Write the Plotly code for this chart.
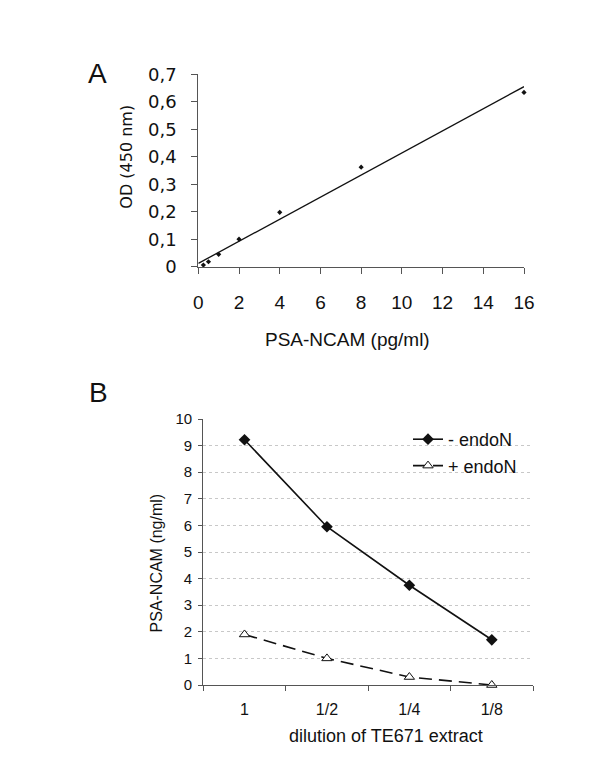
import plotly.graph_objects as go

W, H = 600, 759
OFF = 8  # page body margin in the browser

# ---------------- Panel A data ----------------
conc_pg = [0.25, 0.5, 1, 2, 4, 8, 16]
od_450 = [0.006, 0.018, 0.045, 0.1, 0.198, 0.362, 0.634]
fit_x = [0, 16]
fit_y = [0.012, 0.655]
a_xticks = [0, 2, 4, 6, 8, 10, 12, 14, 16]
a_yticks = [0, 0.1, 0.2, 0.3, 0.4, 0.5, 0.6, 0.7]
a_ytick_labels = ["0", "0,1", "0,2", "0,3", "0,4", "0,5", "0,6", "0,7"]

# ---------------- Panel B data ----------------
dilutions = ["1", "1/2", "1/4", "1/8"]
minus_endoN = [9.22, 5.95, 3.75, 1.7]
plus_endoN = [1.9, 1.0, 0.3, 0.0]
b_yticks = list(range(0, 11))


def px_x(p):
    return (p - OFF) / W


def px_y(p):
    return 1 - (p - OFF) / H


AX = "#555555"
TXT = "#111111"
ARIAL = "Liberation Sans, Arial, sans-serif"
VERD = "DejaVu Sans, Verdana, sans-serif"

fig = go.Figure()

# Panel A
fig.add_trace(go.Scatter(x=fit_x, y=fit_y, mode="lines", line=dict(color="#111111", width=1.3),
                         xaxis="x", yaxis="y", showlegend=False, cliponaxis=False))
fig.add_trace(go.Scatter(x=conc_pg, y=od_450, mode="markers",
                         marker=dict(symbol="diamond", size=4, color="#111111"),
                         xaxis="x", yaxis="y", showlegend=False, cliponaxis=False))

# Panel B
fig.add_trace(go.Scatter(x=dilutions, y=minus_endoN, mode="lines+markers", name="- endoN",
                         line=dict(color="#111111", width=1.6),
                         marker=dict(symbol="diamond", size=9, color="#111111"),
                         xaxis="x2", yaxis="y2", cliponaxis=False))
fig.add_trace(go.Scatter(x=dilutions, y=plus_endoN, mode="lines+markers", name="+ endoN",
                         line=dict(color="#111111", width=1.6, dash="13px,7px"),
                         marker=dict(symbol="triangle-up", size=9, color="white",
                                     line=dict(color="#111111", width=1)),
                         xaxis="x2", yaxis="y2", cliponaxis=False))

fig.update_layout(
    width=W, height=H,
    margin=dict(l=0, r=0, t=0, b=0, pad=0, autoexpand=False),
    paper_bgcolor="white", plot_bgcolor="white",
    font=dict(family=ARIAL, color=TXT),
    xaxis=dict(domain=[px_x(198.3), px_x(524)], range=[0, 16], anchor="y", automargin=False,
               tickvals=a_xticks, ticks="outside", ticklen=6, tickcolor=AX,
               showline=True, linecolor=AX, linewidth=1.2, showgrid=False, zeroline=False,
               tickfont=dict(family=ARIAL, size=19, color=TXT), ticklabelstandoff=12),
    yaxis=dict(domain=[px_y(266.7), px_y(74.3)], range=[0, 0.7], anchor="x", automargin=False,
               tickvals=a_yticks, ticktext=a_ytick_labels, ticks="outside", ticklen=6,
               tickcolor=AX, showline=True, linecolor=AX, linewidth=1.2, showgrid=False,
               zeroline=False, tickfont=dict(family=VERD, size=18, color=TXT),
               ticklabelstandoff=11),
    xaxis2=dict(domain=[px_x(203.3), px_x(533)], range=[-0.5, 3.5], anchor="y2",
                automargin=False,
                type="category", tickson="boundaries", ticks="outside", ticklen=5,
                tickcolor=AX, showline=True, linecolor=AX, linewidth=1.2, showgrid=False,
                zeroline=False, tickfont=dict(family=ARIAL, size=16, color=TXT),
                ticklabelstandoff=10),
    yaxis2=dict(domain=[px_y(685), px_y(419)], range=[0, 10], anchor="x2", automargin=False,
                tickvals=b_yticks, ticks="outside", ticklen=4, tickcolor=AX,
                showline=True, linecolor=AX, linewidth=1.2,
                showgrid=True, gridcolor="#c8c8c8", griddash="dot", gridwidth=1,
                zeroline=False, tickfont=dict(family=ARIAL, size=15, color=TXT),
                ticklabelstandoff=3),
    legend=dict(x=px_x(408), y=px_y(421), xanchor="left", yanchor="top",
                font=dict(family=ARIAL, size=18, color=TXT), bgcolor="rgba(0,0,0,0)",
                tracegroupgap=0),
    annotations=[
        dict(text="A", x=px_x(86), y=px_y(73.5), xref="paper", yref="paper",
             xanchor="left", yanchor="middle", showarrow=False,
             font=dict(family=ARIAL, size=28, color=TXT)),
        dict(text="B", x=px_x(87), y=px_y(392), xref="paper", yref="paper",
             xanchor="left", yanchor="middle", showarrow=False,
             font=dict(family=ARIAL, size=28, color=TXT)),
        dict(text="OD (450 nm)", x=px_x(127), y=px_y(156.7), xref="paper", yref="paper",
             xanchor="center", yanchor="middle", textangle=-90, showarrow=False,
             font=dict(family=VERD, size=16, color=TXT)),
        dict(text="PSA-NCAM (pg/ml)", x=px_x(347.5), y=px_y(339), xref="paper", yref="paper",
             xanchor="center", yanchor="middle", showarrow=False,
             font=dict(family=ARIAL, size=19, color=TXT)),
        dict(text="PSA-NCAM (ng/ml)", x=px_x(156), y=px_y(563.5), xref="paper", yref="paper",
             xanchor="center", yanchor="middle", textangle=-90, showarrow=False,
             font=dict(family=ARIAL, size=16, color=TXT)),
        dict(text="dilution of TE671 extract", x=px_x(386), y=px_y(736), xref="paper",
             yref="paper", xanchor="center", yanchor="middle", showarrow=False,
             font=dict(family=ARIAL, size=18, color=TXT)),
    ],
)

fig.write_html("out.html")
